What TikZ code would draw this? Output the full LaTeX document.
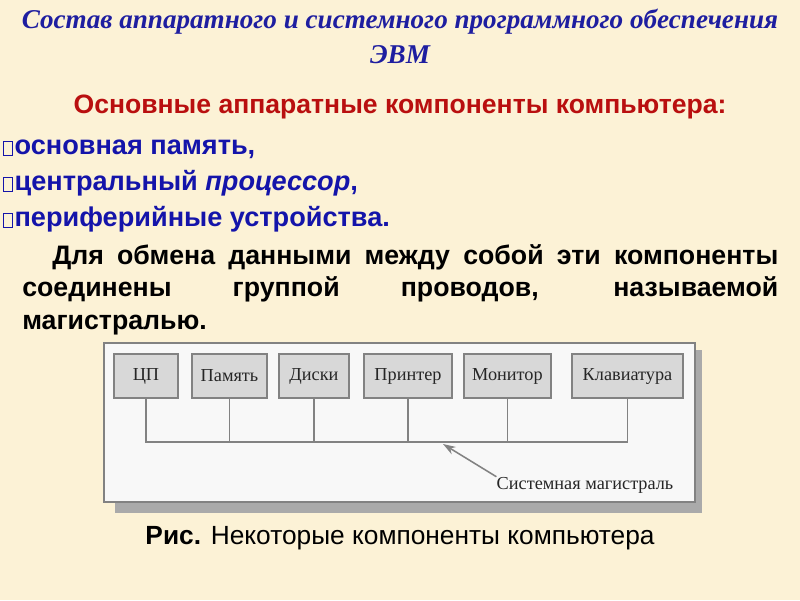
\documentclass[tikz,border=0pt]{standalone}
\usepackage{fontspec}
\setmainfont{Liberation Sans}
\newfontfamily\titlefont{Liberation Serif}
\newfontfamily\figfont{Liberation Serif}
\usetikzlibrary{arrows.meta}
\definecolor{paper}{RGB}{252,242,214}
\definecolor{titleblue}{RGB}{30,30,160}
\definecolor{headred}{RGB}{185,15,15}
\definecolor{itemblue}{RGB}{20,20,170}
\definecolor{boxgray}{RGB}{216,216,216}
\definecolor{linegray}{RGB}{130,130,130}
\definecolor{framefill}{RGB}{248,248,248}
\definecolor{shadowgray}{RGB}{170,170,170}
\newcommand{\glyphbox}{{\fboxsep=0pt\fboxrule=0.6pt\raisebox{-0.5pt}{\fbox{\rule{0pt}{9.5pt}\hspace{5.5pt}}}\hspace{1.5pt}}}
\begin{document}
\begin{tikzpicture}

\tikzset{title/.style={font=\titlefont\fontsize{19.3}{23}\selectfont\itshape\bfseries,text=titleblue,inner sep=0pt},}
\tikzset{heading/.style={font=\fontsize{18.9}{22}\selectfont\bfseries,text=headred,inner sep=0pt},}
\tikzset{item/.style={font=\fontsize{19.3}{22}\selectfont\bfseries,text=itemblue,inner sep=0pt,anchor=base west},}
\tikzset{unit/.style={rectangle,draw=linegray,line width=1.1pt,fill=boxgray,minimum height=1.1cm,inner sep=0pt,font=\figfont\fontsize{13}{15}\selectfont,text=black!85},}
\tikzset{wire/.style={draw=linegray,line width=1.1pt},}

% background
\fill[paper] (0,0) rectangle (20,-15);
\useasboundingbox (0,0) rectangle (20,-15);

%TITLE
\draw (10,-0.55) node [title] (title1) {Состав аппаратного и системного программного обеспечения};
\draw (10,-1.375) node [title] (title2) {ЭВМ};
\draw (10,-2.675) node [heading] (head) {Основные аппаратные компоненты компьютера:};

%ITEMS
\draw (0.07,-3.85) node [item] (item1) {\glyphbox основная память,};
\draw (0.07,-4.75) node [item] (item2) {\glyphbox центральный \textit{процессор},};
\draw (0.07,-5.65) node [item] (item3) {\glyphbox периферийные устройства.};

%TEXT
\draw (0.55,-6.6) node [anchor=base west,inner sep=0pt,text width=18.9cm,align=justify,
  font=\bfseries\fontsize{19}{23.4}\selectfont] (para)
  {\hspace*{0.75cm}Для обмена данными между собой эти компоненты\linebreak соединены группой проводов, называемой\linebreak магистралью.};

%FRAME
\fill[shadowgray] (2.875,-8.75) rectangle (17.55,-12.825);
\draw[draw=linegray,fill=framefill,line width=1.1pt] (2.6,-8.575) rectangle (17.375,-12.55);

%UNITS
\draw (3.65,-9.4) node [unit,minimum width=1.6cm] (cp) {ЦП};
\draw (5.7375,-9.4) node [unit,minimum width=1.875cm] (mem) {Память};
\draw (7.85,-9.4) node [unit,minimum width=1.75cm] (disk) {Диски};
\draw (10.2,-9.4) node [unit,minimum width=2.2cm] (prn) {Принтер};
\draw (12.6875,-9.4) node [unit,minimum width=2.175cm] (mon) {Монитор};
\draw (15.6875,-9.4) node [unit,minimum width=2.775cm] (kbd) {Клавиатура};

%BUS
\draw[wire] (cp.south) |- (kbd.south |- 0,-11.05) -- (kbd.south);
\foreach \u in {mem,disk,prn,mon} \draw[wire] (\u.south) -- (\u.south |- 0,-11.05);
\draw (14.625,-12.125) node [font=\figfont\fontsize{13}{15}\selectfont,text=black!85,inner sep=0pt] (bus) {Системная магистраль};
\coordinate (bustip) at (11.075,-11.1);
\draw[wire,-{Stealth[length=9pt,width=6pt]}] (bus.north west) -- (bustip);

%CAPTION
\draw (10,-13.45) node [font=\fontsize{18.7}{22}\selectfont,inner sep=0pt] (cap) {\textbf{Рис.} Некоторые компоненты компьютера};

\end{tikzpicture}
\end{document}
